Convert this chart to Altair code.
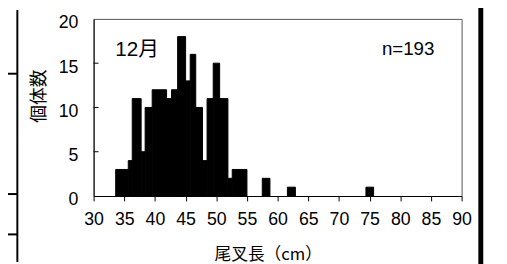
import altair as alt
import pandas as pd

len_lo = [33.6, 35.65, 36.3, 37.75, 38.4, 39.55, 41.9, 42.7, 43.7, 45.0, 45.75,
          46.65, 47.75, 48.5, 49.5, 50.55, 51.9, 52.6, 57.5, 61.6, 74.4]
len_hi = [35.65, 36.3, 37.75, 38.4, 39.55, 41.9, 42.7, 43.7, 45.0, 45.75, 46.65,
          47.75, 48.5, 49.5, 50.55, 51.9, 52.6, 55.0, 58.75, 62.9, 75.65]
counts = [3, 4, 11, 5, 10, 12, 11, 12, 18, 13, 16, 10, 4, 11, 15, 11, 2, 3, 2, 1, 1]

x_ticks = list(range(30, 95, 5))
y_ticks = [0, 5, 10, 15, 20]
y_inner_ticks = [5, 10, 15]

month_label = "12月"
n_label = "n=193"
x_title = "尾叉長（cm）"
y_title = "個体数"

FONT = "Liberation Sans, Noto Sans CJK JP"
CJK = "Noto Sans CJK JP"

df = pd.DataFrame({"lo": len_lo, "hi": len_hi, "count": counts})
ticks_df = pd.DataFrame({"count": y_inner_ticks})

xscale = alt.Scale(domain=[30, 90], nice=False, zero=False)
yscale = alt.Scale(domain=[0, 20], nice=False)

yaxis = alt.Axis(values=y_ticks, ticks=False, tickSize=0, labelFontSize=18,
                 labelFont=FONT, labelColor="black", labelPadding=16,
                 labelOffset=4, domainColor="black", grid=False,
                 labelFlush=False,
                 title=y_title, titleFont=CJK, titleFontSize=18,
                 titleFontWeight="normal", titleColor="black",
                 titleX=-55, titleY=78, titleAngle=270,
                 titleAlign="center", titleBaseline="middle")

one = alt.Data(values=[{}])

# page decorations: table border on the left, thick bar on the right
deco_first = [alt.Chart(one).mark_rect(color="black").encode(
    x=alt.value(-78.5), x2=alt.value(-76.5), y=alt.value(-9), y2=alt.value(120))]

bars = alt.Chart(df).mark_rect(fill="black", stroke="black", strokeWidth=1,
                               opacity=1).encode(
    x=alt.X("lo:Q", scale=xscale,
            axis=alt.Axis(values=x_ticks, tickSize=5, labelFontSize=18, labelFont=FONT,
                          labelColor="black", labelPadding=10, domainColor="black",
                          tickColor="black", grid=False, labelFlush=False,
                          title=x_title, titleFont=CJK, titleFontSize=17,
                          titleFontWeight="normal", titleColor="black",
                          titleX=177, titleY=60, titleAlign="center",
                          titleBaseline="middle")),
    x2="hi:Q",
    y=alt.Y("count:Q", scale=yscale, axis=yaxis),
    y2=alt.datum(0),
)

inner_ticks = alt.Chart(ticks_df).mark_rule(color="black", strokeWidth=1).encode(
    y=alt.Y("count:Q", scale=yscale, axis=yaxis),
    x=alt.value(0),
    x2=alt.value(5),
)

t_month = alt.Chart(one).mark_text(text=month_label, font=FONT, fontSize=21,
                                   align="left", baseline="alphabetic",
                                   color="black").encode(
    x=alt.value(22), y=alt.value(38))
t_n = alt.Chart(one).mark_text(text=n_label, font=FONT, fontSize=19,
                               align="left", baseline="alphabetic",
                               color="black").encode(
    x=alt.value(293), y=alt.value(36.5))

deco = []
for yy in [55.7, 178, 219]:
    deco.append(alt.Chart(one).mark_rect(color="black").encode(
        x=alt.value(-90), x2=alt.value(-77.5), y=alt.value(yy - 1), y2=alt.value(yy + 1)))
deco.append(alt.Chart(one).mark_rect(color="black").encode(
    x=alt.value(391), x2=alt.value(396), y=alt.value(-20), y2=alt.value(250)))
deco.append(alt.Chart(one).mark_rule(color="black", strokeWidth=2).encode(
    x=alt.value(-77.5), y=alt.value(120), y2=alt.value(247)))

chart = alt.layer(*deco_first, bars, inner_ticks, t_month, t_n, *deco).properties(
    width=374, height=180,
    padding={"left": 87, "top": 9, "right": 38, "bottom": 67},
    autosize="none",
).configure_view(stroke="#555555", strokeWidth=1)

chart.save("out.html", embed_options={"renderer": "svg", "actions": False})
